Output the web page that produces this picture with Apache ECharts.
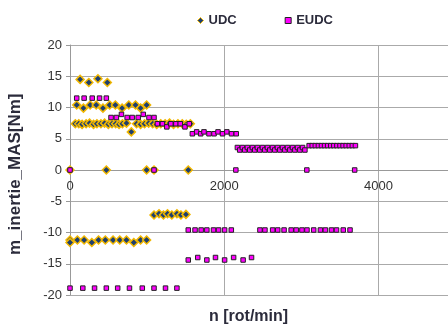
<!DOCTYPE html>
<html><head><meta charset="utf-8">
<script src="https://cdn.jsdelivr.net/npm/echarts@6/dist/echarts.min.js"></script>
<style>html,body{margin:0;padding:0;background:#fff}#c{width:448px;height:330px}</style>
</head><body><div id="c"></div>
<script>
var xTicks = [0, 2000, 4000];
var yTicks = [-20, -15, -10, -5, 0, 5, 10, 15, 20];

var udcX = [0,471,993,1089,1533,
  131,244,362,484,
  87,174,261,340,427,514,588,675,762,849,915,993,
  69,114,157,209,253,305,349,401,448,497,545,592,636,680,732,795,863,915,967,1020,1072,1124,1176,1233,1290,1342,1399,1455,1507,1560,
  1089,1154,1211,1264,1320,1386,1438,1503,
  0,0,96,183,283,370,458,558,645,732,827,915,993];
var udcY = [0,0,0,0,0,
  14.5,14.0,14.6,14.0,
  10.4,9.9,10.4,10.4,9.9,10.4,10.4,9.9,10.4,10.4,9.9,10.4,
  7.4,7.4,7.3,7.4,7.5,7.3,7.4,7.4,7.5,7.3,7.4,7.4,7.3,7.4,7.5,6.1,7.4,7.3,7.4,7.5,7.4,7.3,7.4,7.4,7.5,7.3,7.4,7.4,7.3,7.4,
  -7.2,-7.0,-7.2,-7.0,-7.2,-7.0,-7.2,-7.1,
  -11.2,-11.6,-11.2,-11.2,-11.6,-11.2,-11.2,-11.2,-11.2,-11.2,-11.6,-11.2,-11.2];

var eudcX = [0,1089,2150,3070,3690,
  87,183,288,383,471,
  532,601,667,741,806,884,950,1024,1089,
  1133,1198,1255,1307,1373,1429,1490,1546,
  1586,1642,1694,1737,1802,1867,1919,1977,2033,2094,2155,
  2170,2200,2235,2265,2300,2330,2365,2395,2430,2460,2495,2525,2560,2590,2625,2655,2690,2720,2755,2785,2820,2850,2885,2915,2950,2980,3015,3045,
  3100,3140,3180,3220,3260,3300,3340,3380,3420,3460,3500,3540,3580,3620,3660,3700,
  1533,1621,1700,1774,1860,1926,2004,2091,2462,2527,2627,2693,2775,2867,2932,3007,3072,3159,3246,3311,3390,3455,3542,3630,
  1533,1656,1774,1886,2004,2121,2244,2353,
  0,166,318,471,618,771,937,1089,1238,1386];
var eudcY = [0,0,0,0,0,
  11.5,11.5,11.5,11.5,11.5,
  8.4,8.4,8.9,8.4,8.4,8.4,8.9,8.4,8.4,
  7.4,7.4,6.9,7.4,7.4,7.4,6.9,7.4,
  5.8,6.1,5.8,6.1,5.8,5.8,6.1,5.8,6.1,5.8,5.8,
  3.6,3.2,3.6,3.2,3.6,3.2,3.6,3.2,3.6,3.2,3.6,3.2,3.6,3.2,3.6,3.2,3.6,3.2,3.6,3.2,3.6,3.2,3.6,3.2,3.6,3.2,3.6,3.2,
  3.9,3.9,3.9,3.9,3.9,3.9,3.9,3.9,3.9,3.9,3.9,3.9,3.9,3.9,3.9,3.9,
  -9.6,-9.6,-9.6,-9.6,-9.6,-9.6,-9.6,-9.6,-9.6,-9.6,-9.6,-9.6,-9.6,-9.6,-9.6,-9.6,-9.6,-9.6,-9.6,-9.6,-9.6,-9.6,-9.6,-9.6,
  -14.4,-14.0,-14.4,-14.0,-14.4,-14.0,-14.4,-14.0,
  -18.9,-18.9,-18.9,-18.9,-18.9,-18.9,-18.9,-18.9,-18.9,-18.9];

function pairs(xs, ys){ return xs.map(function(x,i){ return [x, ys[i]]; }); }

var chart = echarts.init(document.getElementById('c'), null, {renderer:'canvas'});
var font = '"Liberation Sans", Arial, sans-serif';
chart.setOption({
  animation: false,
  textStyle: {fontFamily: font},
  grid: {left: 70, top: 45, right: 0, height: 250, containLabel: false},
  legend: {
    top: 9, left: 192, itemGap: 48, itemWidth: 6, itemHeight: 6,
    textStyle: {fontFamily: font, fontWeight: 'bold', fontSize: 13, color: '#2b2b3b'},
    data: [
      {name: 'UDC', icon: 'diamond', itemStyle: {color: '#1f3f6e', borderColor: '#f2b800', borderWidth: 1}},
      {name: 'EUDC', icon: 'rect', itemStyle: {color: '#ff00ff', borderColor: '#222', borderWidth: 1}}
    ]
  },
  xAxis: {
    type: 'value', min: 0, max: 4900, interval: 2000, offset: -125,
    axisLine: {onZero: false, lineStyle: {color: '#999', width: 1}},
    axisTick: {show: false},
    axisLabel: {fontFamily: font, fontSize: 13, color: '#333', margin: 10, showMaxLabel: false,
      formatter: function(v){ return String(v); }},
    splitLine: {show: true, showMaxLine: false, lineStyle: {color: '#aaa', width: 1}}
  },
  yAxis: {
    type: 'value', min: -20, max: 20, interval: 5,
    axisLine: {show: true, onZero: false, lineStyle: {color: '#999', width: 1}},
    axisTick: {show: true, length: 4, inside: false, lineStyle: {color: '#999'}},
    axisLabel: {fontFamily: font, fontSize: 13, color: '#333', margin: 8},
    splitLine: {show: true, lineStyle: {color: '#aaa', width: 1}}
  },
  graphic: [
    {type: 'text', left: 209, top: 309, style: {text: 'n [rot/min]', font: 'bold 16px ' + font, fill: '#2b2b3b'}},
    {type: 'text', x: 7, y: 255, rotation: Math.PI/2, style: {text: 'm_inertie_MAS[Nm]', font: 'bold 17px ' + font, fill: '#2b2b3b'}}
  ],
  series: [
    {name: 'UDC', type: 'scatter', symbol: 'diamond', symbolSize: 8, z: 2,
     itemStyle: {color: '#1f3f6e', borderColor: '#f2b800', borderWidth: 1.5, opacity: 1},
     data: pairs(udcX, udcY)},
    {name: 'EUDC', type: 'scatter', symbol: 'rect', symbolSize: 4.5, z: 3,
     itemStyle: {color: '#ff00ff', borderColor: '#222', borderWidth: 1, opacity: 1},
     data: pairs(eudcX, eudcY)}
  ]
});
</script></body></html>
